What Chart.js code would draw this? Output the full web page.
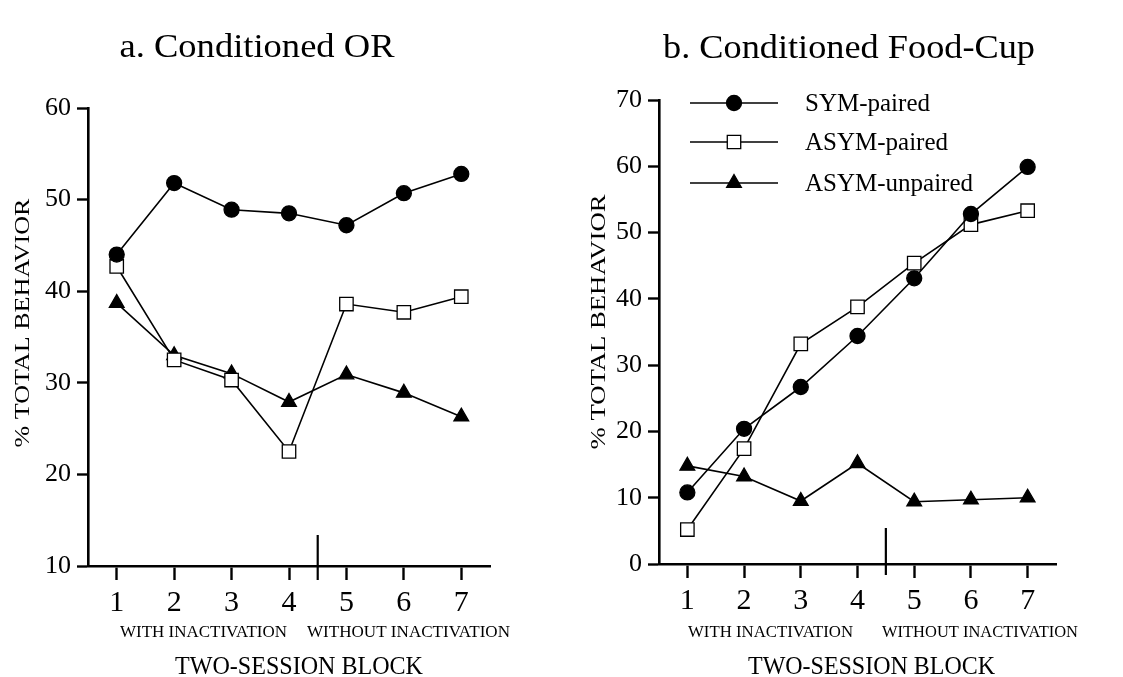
<!DOCTYPE html>
<html><head><meta charset="utf-8">
<script src="https://cdn.jsdelivr.net/npm/chart.js@4.4.0/dist/chart.umd.min.js"></script>
<style>
html,body{margin:0;padding:0;background:#fff;width:1123px;height:677px;overflow:hidden}
canvas{position:absolute;top:0}
#ca{left:0}
#cb{left:560px}
</style></head><body>
<canvas id="ca" width="560" height="677"></canvas>
<canvas id="cb" width="563" height="677"></canvas>
<script>
// ---- data ----
const blocks = [1, 2, 3, 4, 5, 6, 7];
const seriesNames = ['SYM-paired', 'ASYM-paired', 'ASYM-unpaired'];
const orSym          = [44.0, 51.8, 48.9, 48.5, 47.2, 50.7, 52.8];
const orAsymPaired   = [42.7, 32.5, 30.3, 22.5, 38.6, 37.7, 39.4];
const orAsymUnpaired = [38.7, 33.0, 31.0, 27.9, 30.9, 28.9, 26.3];
const fcSym          = [10.8, 20.4, 26.7, 34.4, 43.1, 52.8, 59.9];
const fcAsymPaired   = [5.2, 17.4, 33.2, 38.8, 45.4, 51.2, 53.3];
const fcAsymUnpaired = [14.8, 13.2, 9.5, 15.2, 9.4, 9.7, 10.0];
const panelTitles = ['a. Conditioned OR', 'b. Conditioned Food-Cup'];
const yTitle = '% TOTAL BEHAVIOR';
const xTitle = 'TWO-SESSION BLOCK';
const phaseLabels = ['WITH INACTIVATION', 'WITHOUT INACTIVATION'];
const orTicks = [10, 20, 30, 40, 50, 60];
const fcTicks = [0, 10, 20, 30, 40, 50, 60, 70];
const phaseBoundary = 4.5;

// ---- styles ----
const FONT = '"Liberation Serif", "Times New Roman", serif';
const markerStyles = [
  {pointStyle: 'circle',   radius: 7.5, bg: '#000'},
  {pointStyle: 'rect',     radius: 9.5, bg: '#fff'},
  {pointStyle: 'triangle', radius: 8.5, bg: '#000'}
];

function makeDatasets(seriesList) {
  return seriesList.map((vals, i) => ({
    label: seriesNames[i],
    data: blocks.map((b, j) => ({x: b, y: vals[j]})),
    borderColor: '#000',
    borderWidth: 1.6,
    pointStyle: markerStyles[i].pointStyle,
    pointRadius: markerStyles[i].radius,
    pointHoverRadius: markerStyles[i].radius,
    pointBackgroundColor: markerStyles[i].bg,
    pointBorderColor: '#000',
    pointBorderWidth: 1.3,
    tension: 0,
    fill: false
  }));
}

function txt(ctx, s, x, y, size, width, rot) {
  ctx.save();
  ctx.font = size + 'px ' + FONT;
  const w = ctx.measureText(s).width;
  const sx = width ? width / w : 1;
  ctx.translate(x, y);
  if (rot) ctx.rotate(-Math.PI / 2);
  ctx.scale(sx, 1);
  ctx.fillStyle = '#000';
  ctx.textAlign = 'center';
  ctx.textBaseline = 'alphabetic';
  ctx.fillText(s, 0, 0);
  ctx.restore();
}

function drawMarker(ctx, st, x, y) {
  ctx.save();
  ctx.fillStyle = st.bg;
  ctx.strokeStyle = '#000';
  ctx.lineWidth = 1.3;
  if (Chart.helpers && Chart.helpers.drawPoint) {
    Chart.helpers.drawPoint(ctx, {pointStyle: st.pointStyle, radius: st.radius, borderWidth: 1.3, rotation: 0}, x, y);
  } else {
    ctx.beginPath(); ctx.arc(x, y, st.radius, 0, Math.PI * 2); ctx.fill(); ctx.stroke();
  }
  ctx.restore();
}

function makeChart(canvasId, seriesList, yTicks, lay) {
  const decor = {
    id: 'decor',
    afterDraw(chart) {
      const ctx = chart.ctx;
      const xs = chart.scales.x;
      // title
      txt(ctx, lay.title, lay.titleX, lay.titleY, 33, lay.titleW);
      // y title
      txt(ctx, yTitle, lay.yTitleX, lay.yTitleY, 22, lay.yTitleW, true);
      // phase labels
      txt(ctx, phaseLabels[0], lay.ph1X, 637, 17, lay.ph1W);
      txt(ctx, phaseLabels[1], lay.ph2X, 637, 17, lay.ph2W);
      // x title
      txt(ctx, xTitle, lay.xTitleX, 674, 25, lay.xTitleW);
      // divider
      const dx = xs.getPixelForValue(phaseBoundary);
      ctx.save();
      ctx.strokeStyle = '#000';
      ctx.lineWidth = 2.2;
      ctx.beginPath();
      ctx.moveTo(dx, xs.top - lay.divUp);
      ctx.lineTo(dx, xs.top + lay.divDown);
      ctx.stroke();
      ctx.restore();
      // legend
      if (lay.legend) {
        const L = lay.legend;
        chart.data.datasets.forEach((ds, i) => {
          const y = L.rows[i];
          ctx.save();
          ctx.strokeStyle = '#000';
          ctx.lineWidth = 1.6;
          ctx.beginPath(); ctx.moveTo(L.x0, y); ctx.lineTo(L.x1, y); ctx.stroke();
          ctx.restore();
          drawMarker(ctx, markerStyles[i], L.mx, y);
          ctx.save();
          ctx.font = '25px ' + FONT;
          ctx.fillStyle = '#000';
          ctx.textAlign = 'left';
          ctx.textBaseline = 'middle';
          ctx.fillText(ds.label, L.tx, y + 1);
          ctx.restore();
        });
      }
    }
  };
  return new Chart(document.getElementById(canvasId), {
    type: 'line',
    data: {datasets: makeDatasets(seriesList)},
    options: {
      responsive: false,
      animation: false,
      devicePixelRatio: 1,
      layout: {padding: {top: lay.top, right: lay.right, left: 0, bottom: 0}},
      plugins: {legend: {display: false}, tooltip: {enabled: false}},
      scales: {
        x: {
          type: 'linear', min: 0.5, max: 7.5,
          afterBuildTicks: s => { s.ticks = blocks.map(v => ({value: v})); },
          afterFit: s => { s.height = 677 - lay.bottomPx; },
          border: {display: true, color: '#000', width: 2.6},
          grid: {drawOnChartArea: false, drawTicks: true, tickLength: 14, tickWidth: 2.4, color: '#000', tickColor: '#000'},
          ticks: {color: '#000', font: {family: FONT, size: 30}, padding: 5, maxRotation: 0, autoSkip: false}
        },
        y: {
          type: 'linear', min: yTicks[0], max: yTicks[yTicks.length - 1],
          afterBuildTicks: s => { s.ticks = yTicks.map(v => ({value: v})); },
          afterFit: s => { s.width = lay.leftPx; },
          border: {display: true, color: '#000', width: 2.6},
          grid: {drawOnChartArea: false, drawTicks: true, tickLength: 11, tickWidth: 2.4, color: '#000', tickColor: '#000'},
          ticks: {color: '#000', font: {family: FONT, size: 26}, padding: 6}
        }
      }
    },
    plugins: [decor]
  });
}

makeChart('ca', [orSym, orAsymPaired, orAsymUnpaired], orTicks, {
  top: 108, right: 70, leftPx: 88, bottomPx: 566,
  title: panelTitles[0], titleX: 257, titleY: 57, titleW: 275,
  yTitleX: 29, yTitleY: 323, yTitleW: 249,
  ph1X: 203.5, ph1W: 167, ph2X: 408.5, ph2W: 203,
  xTitleX: 299, xTitleW: 248,
  divUp: 31, divDown: 14
});

makeChart('cb', [fcSym, fcAsymPaired, fcAsymUnpaired], fcTicks, {
  top: 100, right: 67, leftPx: 99, bottomPx: 564,
  title: panelTitles[1], titleX: 289, titleY: 58, titleW: 372,
  yTitleX: 45, yTitleY: 322, yTitleW: 255,
  ph1X: 210.5, ph1W: 165, ph2X: 420, ph2W: 196,
  xTitleX: 311.5, xTitleW: 247,
  divUp: 36, divDown: 11,
  legend: {rows: [103, 142, 183], x0: 130, x1: 218, mx: 174, tx: 245}
});
</script>
</body></html>
